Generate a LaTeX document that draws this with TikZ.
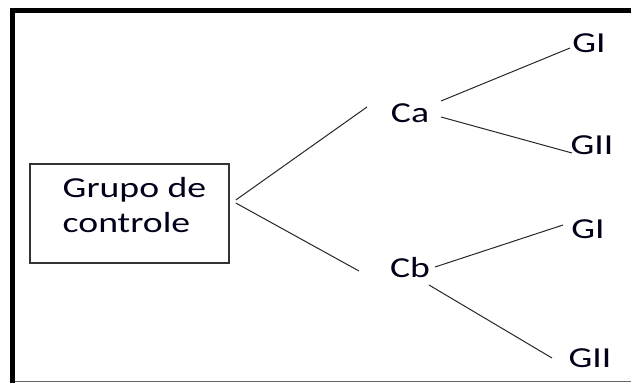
\documentclass[tikz,border=0pt]{standalone}
\usepackage{fontspec}
\setmainfont{Carlito}
\usetikzlibrary{calc}
\tikzset{
  lbl/.style={inner sep=0pt, font=\fontsize{29}{37}\selectfont, text=black!90!blue},
  conn/.style={draw=black!85, line width=1pt},
  boxnode/.style={draw=black!80, line width=1.6pt, minimum width=199pt, minimum height=99pt, inner sep=0pt, font=\fontsize{29}{37}\selectfont, text=black!90!blue}
}
\newcommand{\wx}[1]{\scalebox{1.3}[1]{#1}}
\begin{document}
\begin{tikzpicture}[x=1pt,y=-1pt]
\useasboundingbox (0,0) rectangle (631,383);
% outer frame
\draw[line width=5pt, black] (12.5,383) -- (12.5,10.5) -- (631,10.5);
\draw[line width=1pt, black!60] (15,381.5) -- (631,381.5);
% nodes
\node[boxnode] (box) at (129.5,213.5) {\hspace*{10pt}\raisebox{0pt}[0pt][0pt]{\begin{tabular}{@{}l@{}}\wx{Grupo de}\\[-2pt]\wx{controle}\end{tabular}}};
\node[lbl] (ca) at (410,113) {\wx{Ca}};
\node[lbl] (cb) at (410,268) {\wx{Cb}};
\node[lbl] (g1a) at (589,43) {\wx{GI}};
\node[lbl] (g2a) at (592,145) {\wx{GII}};
\node[lbl] (g1b) at (588,229) {\wx{GI}};
\node[lbl] (g2b) at (590,358) {\wx{GII}};
% connectors
\draw[conn] ($(box.east)+(6,-13.5)$) -- ($(ca.center)+(-43,-6)$);
\draw[conn] ($(box.east)+(6,-10.5)$) -- ($(cb.center)+(-51,3)$);
\draw[conn] ($(ca.center)+(31,-12)$) -- ($(g1a.center)+(-19,5)$);
\draw[conn] ($(ca.center)+(31,4)$) -- ($(g2a.center)+(-20,8)$);
\draw[conn] ($(cb.center)+(25,-1)$) -- ($(g1b.center)+(-25,-4)$);
\draw[conn] ($(cb.center)+(19,17)$) -- ($(g2b.center)+(-38,0)$);
\end{tikzpicture}
\end{document}
